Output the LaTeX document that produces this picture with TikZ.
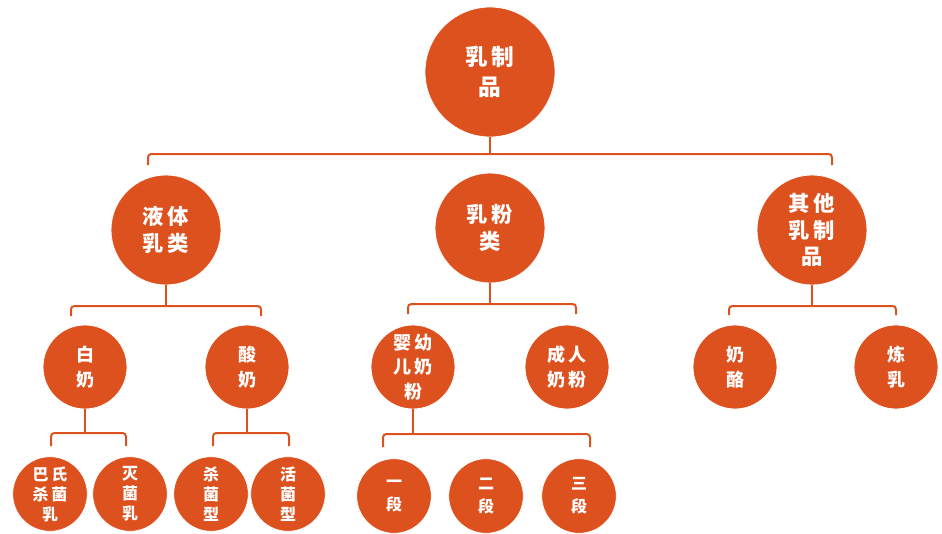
\documentclass[tikz,border=0pt]{standalone}
\usepackage{fontspec}
\newfontfamily\cjk[LetterSpace=16]{Noto Sans CJK SC}
\definecolor{milkred}{RGB}{221,81,31}

\tikzset{
	ball/.style={circle, fill=milkred, draw=white, line width=0.6pt, text=white, inner sep=0pt, align=center, font=\cjk\bfseries},
	rootball/.style={ball, minimum size=97.5pt, font=\cjk\bfseries\fontsize{17}{22.5}\selectfont},
	bigball/.style={ball, minimum size=82.5pt, font=\cjk\bfseries\fontsize{16}{20}\selectfont},
	midball/.style={ball, minimum size=63pt, font=\cjk\bfseries\fontsize{13.5}{18.5}\selectfont},
	smallball/.style={ball, minimum size=56pt, font=\cjk\bfseries\fontsize{12}{15}\selectfont},
	link/.style={draw=milkred, line width=1.5pt, rounded corners=2.5pt}
}

\begin{document}
\begin{tikzpicture}[x=0.75pt,y=0.75pt,yscale=-1,xscale=1]
	\useasboundingbox (0,0) rectangle (942,533);
	
	%Shape: Circle [root]
	\node [rootball] (root) at (490,72) {乳制\\品};
	
	%Shape: Circle [level 1]
	\node [bigball] (liquid) at (166,230) {液体\\乳类};
	\node [bigball] (powder) at (490,228) {乳粉\\类};
	\node [bigball] (other) at (812,230) {其他\\乳制\\品};
	
	%Shape: Circle [level 2]
	\node [midball] (white) at (85,367) {白\\奶};
	\node [midball] (sour) at (247,367) {酸\\奶};
	\node [midball] (infant) at (413,367) {婴幼\\儿奶\\粉};
	\node [midball] (adult) at (567,367) {成人\\奶粉};
	\node [midball] (cheese) at (735,367) {奶\\酪};
	\node [midball] (condensed) at (896,367) {炼\\乳};
	
	%Shape: Circle [level 3]
	\node [smallball] (pasteur) at (50,494) {巴氏\\杀菌\\乳};
	\node [smallball] (sterile) at (130,494) {灭\\菌\\乳};
	\node [smallball] (killed) at (211,494) {杀\\菌\\型};
	\node [smallball] (live) at (288,494) {活\\菌\\型};
	\node [smallball, font=\cjk\bfseries\fontsize{12}{17}\selectfont] (stage1) at (394,496) {一\\段};
	\node [smallball, font=\cjk\bfseries\fontsize{12}{17}\selectfont] (stage2) at (486,496) {二\\段};
	\node [smallball, font=\cjk\bfseries\fontsize{12}{17}\selectfont] (stage3) at (579,496) {三\\段};
	
	%Bracket ends
	\coordinate (b0l) at (148,154); \coordinate (b0r) at (832,154);
	\coordinate (b1l) at (71,306); \coordinate (b1r) at (261,306);
	\coordinate (b2l) at (408,304); \coordinate (b2r) at (576,304);
	\coordinate (b3l) at (729,306); \coordinate (b3r) at (896,306);
	\coordinate (b4l) at (51,433); \coordinate (b4r) at (126,433);
	\coordinate (b5l) at (213,433); \coordinate (b5r) at (289,433);
	\coordinate (b6l) at (383,434); \coordinate (b6r) at (590,434);
	
	%Straight Lines [brackets]
	\draw [link] (root.south) -- (root.south |- b0l);
	\draw [link] (b0l) ++(0,11) |- (b0r) -- ++(0,11);
	\draw [link] (liquid.south) -- (liquid.south |- b1l);
	\draw [link] (b1l) ++(0,10) |- (b1r) -- ++(0,10);
	\draw [link] (powder.south) -- (powder.south |- b2l);
	\draw [link] (b2l) ++(0,10) |- (b2r) -- ++(0,10);
	\draw [link] (other.south) -- (other.south |- b3l);
	\draw [link] (b3l) ++(0,9) |- (b3r) -- ++(0,9);
	\draw [link] (white.south) -- (white.south |- b4l);
	\draw [link] (b4l) ++(0,13) |- (b4r) -- ++(0,13);
	\draw [link] (sour.south) -- (sour.south |- b5l);
	\draw [link] (b5l) ++(0,13) |- (b5r) -- ++(0,13);
	\draw [link] (infant.south) -- (infant.south |- b6l);
	\draw [link] (b6l) ++(0,13) |- (b6r) -- ++(0,13);
	
\end{tikzpicture}
\end{document}
